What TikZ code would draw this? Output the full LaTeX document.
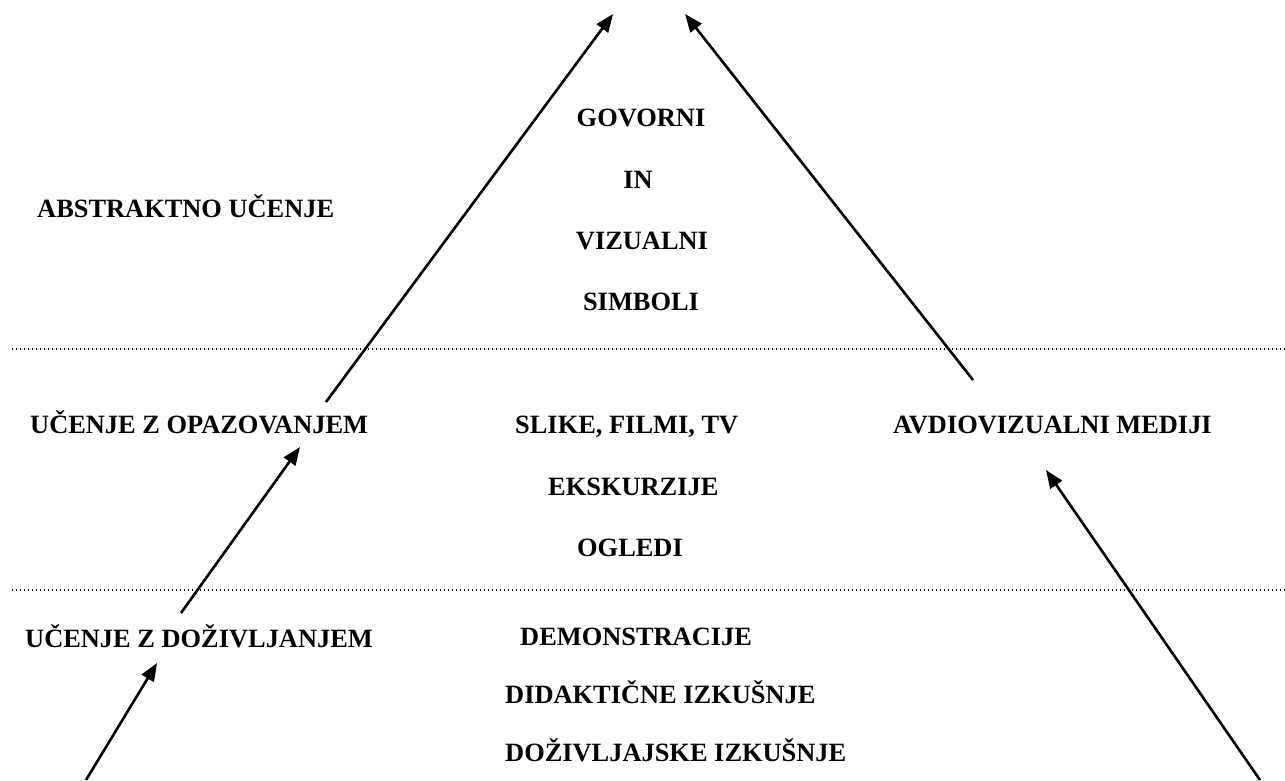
\documentclass[tikz,border=0pt]{standalone}
\usepackage{fontspec}
\setmainfont{Liberation Serif}
\usetikzlibrary{arrows.meta}
\begin{document}
\begin{tikzpicture}[x=1pt,y=-1pt,
  lbl/.style={font=\fontsize{26.4}{30}\selectfont\bfseries, inner sep=0pt, anchor=base west},
  lblc/.style={font=\fontsize{26.4}{30}\selectfont\bfseries, inner sep=0pt, anchor=base},
  arr/.style={line width=2.6pt, -{Triangle[length=18pt,width=14pt]}},
  sep/.style={line width=1.3pt, dash pattern=on 1.4pt off 2.6pt}]
\useasboundingbox (0,0) rectangle (1285,780);

% level separators
\coordinate (s1a) at (12,349);   \coordinate (s1b) at (1285,349);
\coordinate (s2a) at (12,590);   \coordinate (s2b) at (1285,590);
\draw[sep] (s1a) -- (s1b);
\draw[sep] (s2a) -- (s2b);

% top level
\node[lbl]  (abs)  at (37,217)  {ABSTRAKTNO UČENJE};
\node[lblc] (gov)  at (641,126) {GOVORNI};
\node[lblc] (in)   at (638,188) {IN};
\node[lblc] (viz)  at (642,249) {VIZUALNI};
\node[lblc] (sim)  at (641,310) {SIMBOLI};

% middle level
\node[lbl]  (opa)  at (30,433)  {UČENJE Z OPAZOVANJEM};
\node[lbl]  (sli)  at (515,433) {SLIKE, FILMI, TV};
\node[lbl]  (avd)  at (893,433) {AVDIOVIZUALNI MEDIJI};
\node[lbl]  (eks)  at (548,495) {EKSKURZIJE};
\node[lblc] (ogl)  at (630,556) {OGLEDI};

% bottom level
\node[lbl]  (dozl) at (25,647)  {UČENJE Z DOŽIVLJANJEM};
\node[lbl]  (dem)  at (520,645) {DEMONSTRACIJE};
\node[lbl]  (did)  at (505,703) {DIDAKTIČNE IZKUŠNJE};
\node[lbl]  (dozi) at (505,761) {DOŽIVLJAJSKE IZKUŠNJE};

% arrow end points
\coordinate (a1s) at (86,780);   \coordinate (a1e) at (157,663);
\coordinate (a2s) at (181,613);  \coordinate (a2e) at (300,447);
\coordinate (a3s) at (326,402);  \coordinate (a3e) at (613,14);
\coordinate (a4s) at (973,380);  \coordinate (a4e) at (685,14);
\coordinate (a5s) at (1260,780); \coordinate (a5e) at (1046,470);

\draw[arr] (a1s) -- (a1e);
\draw[arr] (a2s) -- (a2e);
\draw[arr] (a3s) -- (a3e);
\draw[arr] (a4s) -- (a4e);
\draw[arr] (a5s) -- (a5e);
\end{tikzpicture}
\end{document}
